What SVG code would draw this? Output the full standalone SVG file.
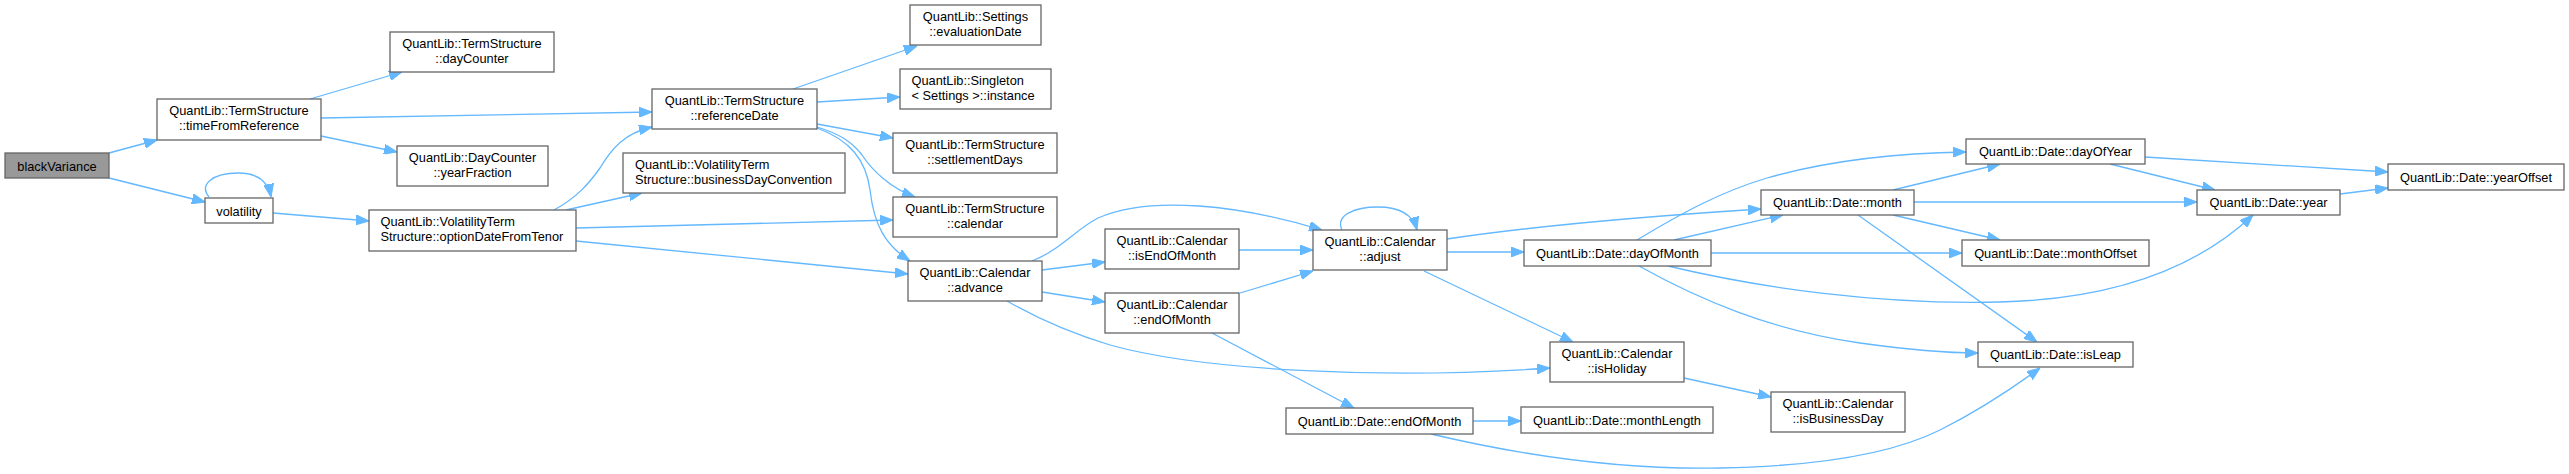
<svg xmlns="http://www.w3.org/2000/svg" width="2569" height="474" viewBox="0 0 2569 474">
<style>
.n rect{fill:#fff;stroke:#666;stroke-width:1.3}
.n.root rect{fill:#999}
text{font-family:"Liberation Sans",Arial,Helvetica,sans-serif;font-size:12.8px;fill:#000}
.c{text-anchor:middle}
.l{text-anchor:start}
#edges path{fill:none;stroke:#63b8ff;stroke-width:1.3;marker-end:url(#ah)}
</style>
<defs>
<marker id="ah" viewBox="0 0 13 10" refX="13" refY="5" markerWidth="13" markerHeight="10" markerUnits="userSpaceOnUse" orient="auto">
<path d="M0,0 L13,5 L0,10 z" fill="#63b8ff" stroke="#63b8ff" stroke-width="1"/>
</marker>
</defs>
<rect width="2569" height="474" fill="#fff"/>
<g id="edges">
<path d="M109,153 L157,140"/>
<path d="M109,178 L205,202"/>
<path d="M209,197 C199,185 212,173 238,173 C258,173 268,181 271,197"/>
<path d="M310,99 L402,72"/>
<path d="M321,118 L652,112"/>
<path d="M321,136 L397,152"/>
<path d="M273,213 L369,221"/>
<path d="M554,210 C578,197 590,182 600,168 C612,148 625,133 652,127"/>
<path d="M566,210 L642,193"/>
<path d="M576,228 L893,220"/>
<path d="M576,241 L908,274"/>
<path d="M793,89 L917,46"/>
<path d="M817,102 L900,97"/>
<path d="M817,124 L893,138"/>
<path d="M817,127 C840,134 852,142 862,155 C872,170 890,188 915,197"/>
<path d="M817,128 C850,140 866,160 870,190 C874,225 885,245 910,261"/>
<path d="M1032,261 C1060,250 1075,230 1098,218 C1150,195 1240,205 1322,230"/>
<path d="M1042,270 L1105,262"/>
<path d="M1042,292 L1105,302"/>
<path d="M1007,301 C1040,320 1070,333 1110,345 C1200,370 1380,380 1550,368"/>
<path d="M1239,250 L1313,250"/>
<path d="M1240,293 L1313,271"/>
<path d="M1212,333 L1354,408"/>
<path d="M1342,230 C1335,215 1355,207 1378,207 C1400,207 1413,215 1417,230"/>
<path d="M1447,239 C1520,228 1620,218 1761,209"/>
<path d="M1447,252 L1524,252"/>
<path d="M1424,271 L1573,342"/>
<path d="M1473,421 L1521,421"/>
<path d="M1431,434 C1520,455 1620,470 1720,468 C1830,466 1900,450 1940,430 C1980,410 2010,390 2040,368"/>
<path d="M1637,240 C1680,214 1720,192 1767,178 C1830,160 1900,153 1966,152"/>
<path d="M1674,240 L1783,215"/>
<path d="M1711,253 L1962,253"/>
<path d="M1668,266 C1760,288 1880,305 2000,302 C2120,299 2200,265 2253,215"/>
<path d="M1639,266 C1700,300 1770,330 1860,343 C1910,350 1950,353 1978,353"/>
<path d="M1893,190 L2000,164"/>
<path d="M1914,202 L2197,202"/>
<path d="M1893,215 L2000,240"/>
<path d="M1858,215 L2037,342"/>
<path d="M2145,157 L2388,172"/>
<path d="M2110,164 L2215,190"/>
<path d="M2340,194 L2388,188"/>
<path d="M1684,378 L1771,397"/>
</g>
<g id="n0" class="n root"><rect x="5" y="153" width="104" height="25"/><text class="c" x="57" y="170.5">blackVariance</text></g>
<g id="n1" class="n"><rect x="157" y="99" width="164" height="41"/><text class="c" x="239" y="115">QuantLib::TermStructure</text><text class="c" x="239" y="130">::timeFromReference</text></g>
<g id="n2" class="n"><rect x="390" y="32" width="164" height="40"/><text class="c" x="472" y="48">QuantLib::TermStructure</text><text class="c" x="472" y="63">::dayCounter</text></g>
<g id="n3" class="n"><rect x="397" y="146" width="151" height="40"/><text class="c" x="472.5" y="162">QuantLib::DayCounter</text><text class="c" x="472.5" y="177">::yearFraction</text></g>
<g id="n4" class="n"><rect x="205" y="198" width="68" height="25"/><text class="c" x="239" y="215.5">volatility</text></g>
<g id="n5" class="n"><rect x="369" y="210" width="207" height="41"/><text class="l" x="380.5" y="226">QuantLib::VolatilityTerm</text><text class="l" x="380.5" y="241">Structure::optionDateFromTenor</text></g>
<g id="n6" class="n"><rect x="652" y="89" width="165" height="40"/><text class="c" x="734.5" y="105">QuantLib::TermStructure</text><text class="c" x="734.5" y="120">::referenceDate</text></g>
<g id="n7" class="n"><rect x="910" y="5" width="131" height="40"/><text class="c" x="975.5" y="21">QuantLib::Settings</text><text class="c" x="975.5" y="36">::evaluationDate</text></g>
<g id="n8" class="n"><rect x="900" y="69" width="151" height="40"/><text class="l" x="911.5" y="85">QuantLib::Singleton</text><text class="l" x="911.5" y="100">&lt; Settings &gt;::instance</text></g>
<g id="n9" class="n"><rect x="893" y="133" width="164" height="40"/><text class="c" x="975" y="149">QuantLib::TermStructure</text><text class="c" x="975" y="164">::settlementDays</text></g>
<g id="n10" class="n"><rect x="623" y="153" width="222" height="40"/><text class="l" x="635" y="169">QuantLib::VolatilityTerm</text><text class="l" x="635" y="184">Structure::businessDayConvention</text></g>
<g id="n11" class="n"><rect x="893" y="197" width="164" height="40"/><text class="c" x="975" y="213">QuantLib::TermStructure</text><text class="c" x="975" y="228">::calendar</text></g>
<g id="n12" class="n"><rect x="908" y="261" width="134" height="40"/><text class="c" x="975" y="277">QuantLib::Calendar</text><text class="c" x="975" y="292">::advance</text></g>
<g id="n13" class="n"><rect x="1105" y="229" width="134" height="40"/><text class="c" x="1172" y="245">QuantLib::Calendar</text><text class="c" x="1172" y="260">::isEndOfMonth</text></g>
<g id="n14" class="n"><rect x="1105" y="293" width="134" height="40"/><text class="c" x="1172" y="309">QuantLib::Calendar</text><text class="c" x="1172" y="324">::endOfMonth</text></g>
<g id="n15" class="n"><rect x="1313" y="230" width="134" height="40"/><text class="c" x="1380" y="246">QuantLib::Calendar</text><text class="c" x="1380" y="261">::adjust</text></g>
<g id="n16" class="n"><rect x="1286" y="408" width="187" height="26"/><text class="c" x="1379.5" y="425.5">QuantLib::Date::endOfMonth</text></g>
<g id="n17" class="n"><rect x="1524" y="240" width="187" height="26"/><text class="c" x="1617.5" y="257.5">QuantLib::Date::dayOfMonth</text></g>
<g id="n18" class="n"><rect x="1550" y="342" width="134" height="40"/><text class="c" x="1617" y="358">QuantLib::Calendar</text><text class="c" x="1617" y="373">::isHoliday</text></g>
<g id="n19" class="n"><rect x="1521" y="407" width="192" height="26"/><text class="c" x="1617" y="424.5">QuantLib::Date::monthLength</text></g>
<g id="n20" class="n"><rect x="1761" y="190" width="153" height="25"/><text class="c" x="1837.5" y="207">QuantLib::Date::month</text></g>
<g id="n21" class="n"><rect x="1966" y="139" width="179" height="25"/><text class="c" x="2055.5" y="156">QuantLib::Date::dayOfYear</text></g>
<g id="n22" class="n"><rect x="1962" y="240" width="187" height="26"/><text class="c" x="2055.5" y="257.5">QuantLib::Date::monthOffset</text></g>
<g id="n23" class="n"><rect x="1978" y="342" width="155" height="25"/><text class="c" x="2055.5" y="359">QuantLib::Date::isLeap</text></g>
<g id="n24" class="n"><rect x="1771" y="392" width="134" height="40"/><text class="c" x="1838" y="408">QuantLib::Calendar</text><text class="c" x="1838" y="423">::isBusinessDay</text></g>
<g id="n25" class="n"><rect x="2197" y="190" width="143" height="25"/><text class="c" x="2268.5" y="207">QuantLib::Date::year</text></g>
<g id="n26" class="n"><rect x="2388" y="164" width="176" height="26"/><text class="c" x="2476" y="181.5">QuantLib::Date::yearOffset</text></g>
</svg>
